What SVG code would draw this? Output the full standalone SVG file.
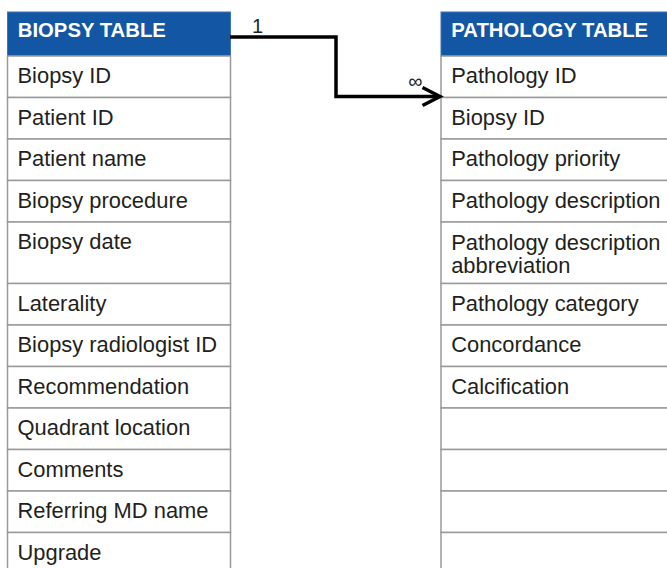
<svg xmlns="http://www.w3.org/2000/svg" width="667" height="568" viewBox="0 0 667 568">
<style>
.row{fill:#ffffff;stroke:#9a9a9a;stroke-width:1.5}
.hdr{fill:#1356a3;stroke:#3f73b3;stroke-width:1}
.ht{font-family:"Liberation Sans",Arial,sans-serif;font-weight:bold;font-size:20.3px;fill:#ffffff}
.t{font-family:"Liberation Sans",Arial,sans-serif;font-size:21.9px;fill:#231f20}
.lbl{font-family:"Liberation Sans",Arial,sans-serif;font-size:20px;fill:#231f20}
.conn{fill:none;stroke:#000000;stroke-width:3.5;stroke-linejoin:miter}
</style>
<rect x="0" y="0" width="667" height="568" fill="#ffffff"/>
<g id="biopsy-table">
<rect class="hdr" x="7.5" y="12" width="223" height="44"/>
<text class="ht" x="17.8" y="37.3">BIOPSY TABLE</text>
<rect class="row" x="7.5" y="56" width="223" height="41.5"/>
<rect class="row" x="7.5" y="97.5" width="223" height="41.5"/>
<rect class="row" x="7.5" y="139" width="223" height="41.5"/>
<rect class="row" x="7.5" y="180.5" width="223" height="41.5"/>
<rect class="row" x="7.5" y="222" width="223" height="61.5"/>
<rect class="row" x="7.5" y="283.5" width="223" height="41.5"/>
<rect class="row" x="7.5" y="325" width="223" height="41.5"/>
<rect class="row" x="7.5" y="366.5" width="223" height="41.5"/>
<rect class="row" x="7.5" y="408" width="223" height="41.5"/>
<rect class="row" x="7.5" y="449.5" width="223" height="41.5"/>
<rect class="row" x="7.5" y="491" width="223" height="41.5"/>
<rect class="row" x="7.5" y="532.5" width="223" height="60"/>
<text class="t" x="17.5" y="83">Biopsy ID</text>
<text class="t" x="17.5" y="124.5">Patient ID</text>
<text class="t" x="17.5" y="166">Patient name</text>
<text class="t" x="17.5" y="207.5">Biopsy procedure</text>
<text class="t" x="17.5" y="249">Biopsy date</text>
<text class="t" x="17.5" y="310.5">Laterality</text>
<text class="t" x="17.5" y="352">Biopsy radiologist ID</text>
<text class="t" x="17.5" y="393.5">Recommendation</text>
<text class="t" x="17.5" y="435">Quadrant location</text>
<text class="t" x="17.5" y="476.5">Comments</text>
<text class="t" x="17.5" y="518">Referring MD name</text>
<text class="t" x="17.5" y="559.5">Upgrade</text>
</g>
<g id="pathology-table">
<rect class="hdr" x="441" y="12" width="240" height="44"/>
<text class="ht" x="451.3" y="37.3">PATHOLOGY TABLE</text>
<rect class="row" x="441" y="56" width="240" height="41.5"/>
<rect class="row" x="441" y="97.5" width="240" height="41.5"/>
<rect class="row" x="441" y="139" width="240" height="41.5"/>
<rect class="row" x="441" y="180.5" width="240" height="41.5"/>
<rect class="row" x="441" y="222" width="240" height="61.5"/>
<rect class="row" x="441" y="283.5" width="240" height="41.5"/>
<rect class="row" x="441" y="325" width="240" height="41.5"/>
<rect class="row" x="441" y="366.5" width="240" height="41.5"/>
<rect class="row" x="441" y="408" width="240" height="41.5"/>
<rect class="row" x="441" y="449.5" width="240" height="41.5"/>
<rect class="row" x="441" y="491" width="240" height="41.5"/>
<rect class="row" x="441" y="532.5" width="240" height="60"/>
<text class="t" x="451.2" y="83">Pathology ID</text>
<text class="t" x="451.2" y="124.5">Biopsy ID</text>
<text class="t" x="451.2" y="166">Pathology priority</text>
<text class="t" x="451.2" y="207.5">Pathology description</text>
<text class="t" x="451.2" y="249.5">Pathology description</text>
<text class="t" x="451.2" y="272.5">abbreviation</text>
<text class="t" x="451.2" y="310.5">Pathology category</text>
<text class="t" x="451.2" y="352">Concordance</text>
<text class="t" x="451.2" y="393.5">Calcification</text>
</g>
<g id="connectors">
<path class="conn" d="M230,37 H336 V96.5 H439"/>
<path class="conn" d="M422.5,87.5 L440,96.5 L422.5,105.5"/>
<text class="lbl" x="257.5" y="33.3" text-anchor="middle">1</text>
<text class="lbl" x="415.3" y="88" text-anchor="middle">∞</text>
</g>
</svg>
